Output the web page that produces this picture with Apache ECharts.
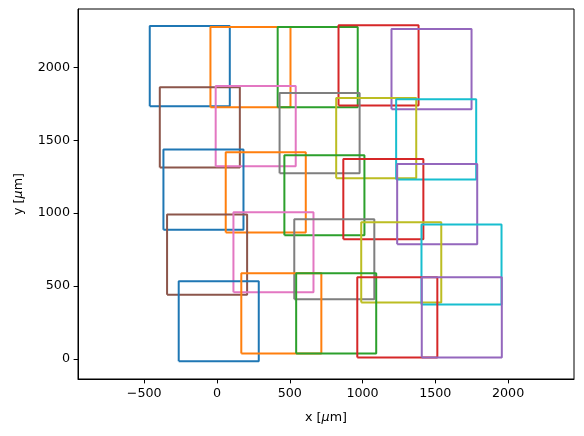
<!DOCTYPE html>
<html>
<head>
<meta charset="utf-8">
<script src="https://cdn.jsdelivr.net/npm/echarts@6/dist/echarts.min.js"></script>
<style>
html,body{margin:0;padding:0;background:#fff;}
#c{width:584px;height:436px;}
</style>
</head>
<body>
<div id="c"></div>
<script>
// Lower-left corners of each field (µm), in drawing order
const cornerX = [-462, -45, 417, 835, 1199,
                 -393, -9, 430, 819, 1231,
                 -368, 60, 463, 868, 1238,
                 -343, 113, 531, 991, 1405,
                 -263, 167, 544, 964, 1407];
const cornerY = [1734, 1727, 1727, 1738, 1713,
                 1313, 1322, 1274, 1240, 1231,
                 887, 867, 848, 821, 787,
                 441, 457, 409, 388, 373,
                 -16, 38, 38, 11, 11];
const side = 550;
const xTicks = [-500, 0, 500, 1000, 1500, 2000];
const yTicks = [0, 500, 1000, 1500, 2000];
const palette = ['#1f77b4','#ff7f0e','#2ca02c','#d62728','#9467bd','#8c564b','#e377c2','#7f7f7f','#bcbd22','#17becf'];

const fmt = v => String(v).replace('-', '\u2212');
const font = 'DejaVu Sans';

const series = cornerX.map((x0, i) => {
  const y0 = cornerY[i];
  return {
    type: 'line',
    symbol: 'none',
    silent: true,
    animation: false,
    lineStyle: {color: palette[i % 10], width: 2},
    data: [[x0, y0], [x0 + side, y0], [x0 + side, y0 + side], [x0, y0 + side], [x0, y0]]
  };
});

const axisCommon = {
  axisLine: {show: true, onZero: false, lineStyle: {color: '#000', width: 1}},
  axisTick: {show: true, length: 4.4, inside: false, lineStyle: {color: '#000', width: 1}},
  splitLine: {show: false},
};

const chart = echarts.init(document.getElementById('c'), null, {renderer: 'canvas'});
chart.setOption({
  animation: false,
  backgroundColor: '#fff',
  grid: {left: 78, right: 10, top: 9, bottom: 57, show: true, borderColor: '#000', borderWidth: 1},
  xAxis: Object.assign({}, axisCommon, {
    type: 'value', min: -955, max: 2453,
    axisTick: Object.assign({}, axisCommon.axisTick, {customValues: xTicks}),
    axisLabel: {customValues: xTicks, formatter: fmt, color: '#000', fontFamily: font, fontSize: 12.7, margin: 8},
    name: 'x [{i|\u03bc}m]', nameLocation: 'middle', nameGap: 32,
    nameTextStyle: {color: '#000', fontFamily: font, fontSize: 12.7,
      rich: {i: {fontStyle: 'italic', fontFamily: font, fontSize: 12.7, color: '#000'}}}
  }),
  yAxis: Object.assign({}, axisCommon, {
    type: 'value', min: -137, max: 2400,
    axisTick: Object.assign({}, axisCommon.axisTick, {customValues: yTicks}),
    axisLabel: {customValues: yTicks, formatter: fmt, color: '#000', fontFamily: font, fontSize: 12.7, margin: 8},
    name: 'y [{i|\u03bc}m]', nameLocation: 'middle', nameGap: 53,
    nameTextStyle: {color: '#000', fontFamily: font, fontSize: 12.7,
      rich: {i: {fontStyle: 'italic', fontFamily: font, fontSize: 12.7, color: '#000'}}}
  }),
  series: series
});
</script>
</body>
</html>
